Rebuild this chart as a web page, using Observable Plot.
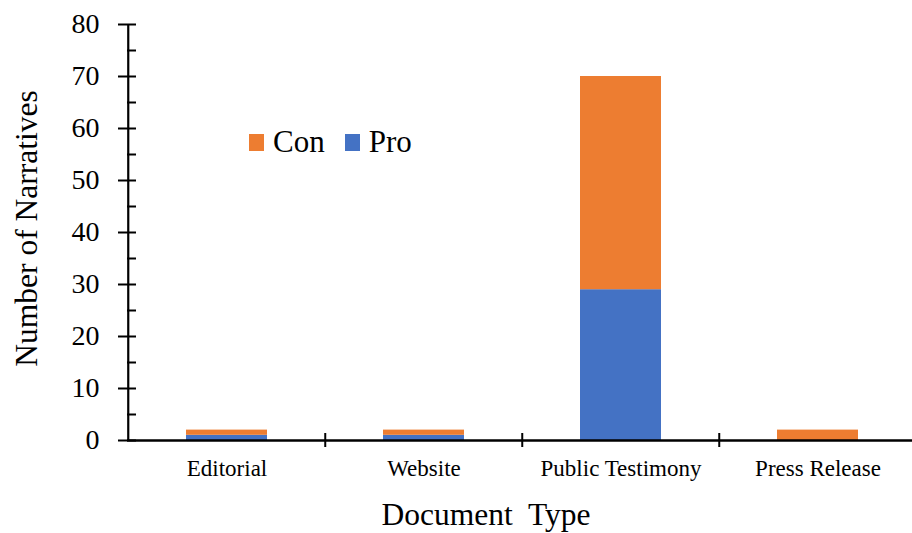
<!DOCTYPE html>
<html>
<head>
<meta charset="utf-8">
<script src="https://cdn.jsdelivr.net/npm/d3@7"></script>
<script src="https://cdn.jsdelivr.net/npm/@observablehq/plot@0.6"></script>
<style>
  body { margin: 0; background: #fff; }
  #chart { position: relative; width: 912px; height: 533px; font-family: "Liberation Serif", serif; }
  #chart svg text { white-space: pre; }
  #legend { position: absolute; left: 249px; top: 126px; }
  #legend .leg-swatches { font-family: "Liberation Serif", serif !important; font-size: 31px !important; line-height: 32px; color: #000; margin: 0 !important; min-height: 0 !important; }
  #legend .leg-swatch { margin-right: 20px !important; }
  #legend .leg-swatch > svg { margin-right: 9px !important; }
</style>
</head>
<body>
<div id="chart"><div id="legend"></div></div>
<script>
// Narratives counted per document type, split by stance
const categories = ["Editorial", "Website", "Public Testimony", "Press Release"];
const proCounts = [1, 1, 29, 0];
const conCounts = [1, 1, 41, 2];
const stances = ["Con", "Pro"];
const stanceColors = ["#ED7D31", "#4472C4"];
const yMajorTicks = [0, 10, 20, 30, 40, 50, 60, 70, 80];
const yMinorTicks = [5, 15, 25, 35, 45, 55, 65, 75];

// Long table: Pro rows first so they sit at the bottom of each stack
const rows = [
  ...categories.map((c, i) => ({category: c, stance: "Pro", count: proCounts[i]})),
  ...categories.map((c, i) => ({category: c, stance: "Con", count: conCounts[i]}))
];

const W = 912, H = 533;
const mLeft = 127, mRight = 0, mTop = 24, mBottom = 93;
const xRange = [127, 917];
const step = (xRange[1] - xRange[0]) / categories.length;
const frameW = W - mLeft - mRight;

const chart = Plot.plot({
  width: W,
  height: H,
  marginLeft: mLeft,
  marginRight: mRight,
  marginTop: mTop,
  marginBottom: mBottom,
  style: {fontFamily: "Liberation Serif, serif", color: "#000", background: "#fff", overflow: "visible"},
  x: {domain: categories, range: xRange, paddingInner: 0.59, paddingOuter: 0.295, axis: null},
  y: {domain: [0, 80], axis: null},
  color: {domain: stances, range: stanceColors},
  marks: [
    Plot.barY(rows, Plot.stackY({x: "category", y: "count", fill: "stance"})),
    // y axis: labels with outer ticks, then inner ticks for every step of 5
    Plot.axisY({ticks: yMajorTicks, label: null, tickSize: 9, tickPadding: 19, fontSize: 28, stroke: "#000", strokeWidth: 2, tickFormat: d => String(d)}),
    Plot.ruleY([...yMajorTicks, ...yMinorTicks], {stroke: "#000", strokeWidth: 2, insetRight: frameW - 9}),
    Plot.ruleX([categories[0]], {y1: 0, y2: 80, dx: -step / 2, stroke: "#000", strokeWidth: 2.2}),
    // x axis line, category boundary ticks and labels
    Plot.ruleY([0], {stroke: "#000", strokeWidth: 2.4}),
    Plot.ruleX(categories.slice(1), {y1: 0, y2: 0, dx: -step / 2, insetTop: -7, insetBottom: -7, stroke: "#000", strokeWidth: 2}),
    Plot.axisX({label: null, tickSize: 0, tickPadding: 19, fontSize: 23}),
    // axis titles
    Plot.text(["Document  Type"], {frameAnchor: "bottom", textAnchor: "middle", dx: -34, dy: 84, lineAnchor: "bottom", fontSize: 31.5, fill: "#000"}),
    Plot.text(["Number of Narratives"], {frameAnchor: "left", textAnchor: "middle", rotate: -90, dx: -101, dy: -4, lineAnchor: "middle", fontSize: 31.5, fill: "#000"})
  ]
});

document.getElementById("chart").prepend(chart);
document.getElementById("legend").append(
  chart.legend("color", {className: "leg", swatchWidth: 15, swatchHeight: 17})
);
</script>
</body>
</html>
